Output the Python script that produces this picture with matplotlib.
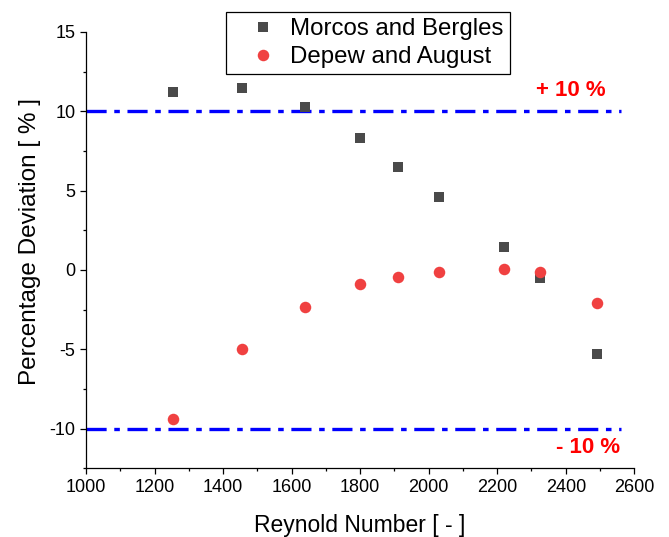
import matplotlib
matplotlib.use("Agg")
import matplotlib.pyplot as plt
from matplotlib.ticker import MultipleLocator

plt.rcParams['font.family'] = ['Liberation Sans', 'DejaVu Sans']
plt.rcParams['lines.scale_dashes'] = False
plt.rcParams['axes.unicode_minus'] = False

# Reynolds numbers and deviations of the two correlations
reynolds = [1255, 1455, 1640, 1800, 1910, 2030, 2220, 2325, 2490]
morcos_bergles = [11.2, 11.45, 10.3, 8.3, 6.5, 4.6, 1.45, -0.5, -5.3]
depew_august = [-9.4, -4.95, -2.35, -0.9, -0.45, -0.15, 0.05, -0.1, -2.1]

limit = 10
limit_x = [1000, 2560]

fig = plt.figure(figsize=(6.69, 5.37), dpi=100)
ax = fig.add_axes([86/669, 1 - 468.3/537, (634.3 - 86)/669, (468.3 - 32)/537])

ax.plot(reynolds, morcos_bergles, 's', color='#4a4a4a', markersize=7,
        markeredgewidth=0, label='Morcos and Bergles', zorder=3)
ax.plot(reynolds, depew_august, 'o', color='#f04141', markersize=8.3,
        markeredgewidth=0, label='Depew and August', zorder=4)

dash = (0, (14.5, 5.5, 4.0, 5.5))
ax.plot(limit_x, [limit, limit], color='#0000ff', lw=2.4,
        linestyle=dash, dash_capstyle='butt', zorder=2)
ax.plot(limit_x, [-limit, -limit], color='#0000ff', lw=2.4,
        linestyle=dash, dash_capstyle='butt', zorder=2)

ax.text(2415, 11.3, '+ 10 %', color='#ff0000', fontsize=16,
        fontweight='bold', ha='center', va='center')
ax.text(2465, -11.2, '- 10 %', color='#ff0000', fontsize=16,
        fontweight='bold', ha='center', va='center')

ax.set_xlim(1000, 2600)
ax.set_ylim(-12.5, 15)
ax.xaxis.set_major_locator(MultipleLocator(200))
ax.xaxis.set_minor_locator(MultipleLocator(100))
ax.yaxis.set_major_locator(MultipleLocator(5))
ax.yaxis.set_minor_locator(MultipleLocator(2.5))

for side in ['top', 'right']:
    ax.spines[side].set_visible(False)
for side in ['left', 'bottom']:
    ax.spines[side].set_linewidth(0.9)

ax.tick_params(which='major', direction='out', length=4.5, width=0.9,
               labelsize=13, pad=3)
ax.tick_params(which='minor', direction='out', length=2.5, width=0.9)

ax.set_xlabel('Reynold Number [ - ]', fontsize=16.5, labelpad=13)
ax.set_ylabel('Percentage Deviation [ % ]', fontsize=17.5)
ax.yaxis.set_label_coords(-0.082, 0.519)

leg = ax.legend(loc='upper left', bbox_to_anchor=(226/669, 1 - 12/537),
                bbox_transform=fig.transFigure, borderaxespad=0,
                fontsize=17.3, fancybox=False, edgecolor='black',
                framealpha=1, handletextpad=-0.16, borderpad=0.25,
                labelspacing=0.25, handlelength=2.58)
leg.get_frame().set_linewidth(0.9)

fig.savefig('out.png', dpi=100)
